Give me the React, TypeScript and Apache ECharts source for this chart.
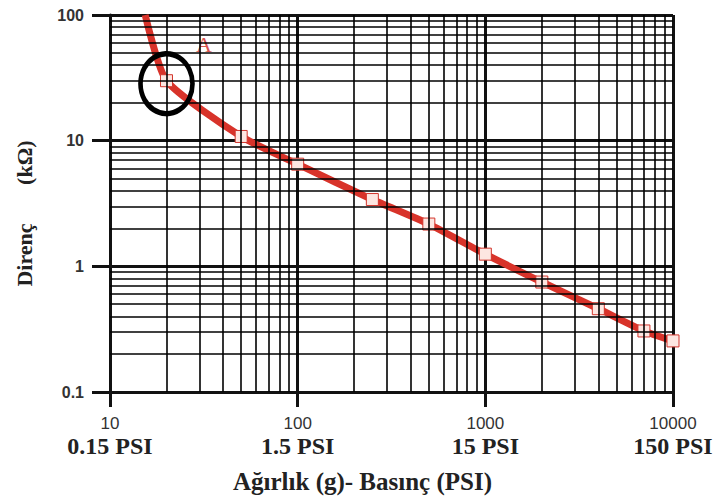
import React, { useEffect, useRef } from "react";
import * as echarts from "echarts";

const weights = [15.4, 20, 50, 100, 250, 500, 1000, 2000, 4000, 7000, 10000];
const resistance = [100, 30, 10.8, 6.5, 3.4, 2.17, 1.25, 0.75, 0.46, 0.306, 0.255];
const xTickLabels: Record<number, string> = { 10: "0.15 PSI", 100: "1.5 PSI", 1000: "15 PSI", 10000: "150 PSI" };
const xDecades = [10, 100, 1000];
const yDecades = [0.1, 1, 10];
const markedPoint = [20, 30];

export default function App() {
  const ref = useRef<HTMLDivElement>(null);
  useEffect(() => {
    if (!ref.current) return;
    const chart = echarts.init(ref.current, null, { renderer: "svg" });
    const minorX: number[] = [];
    xDecades.forEach((d) => { for (let k = 2; k <= 9; k++) minorX.push(d * k); });
    const minorY: number[] = [];
    yDecades.forEach((d) => { for (let k = 2; k <= 9; k++) minorY.push(+(d * k).toPrecision(3)); });
    const lineData = weights.map((w, i) => {
      const item: any = { value: [w, resistance[i]] };
      if (i === 0) item.symbol = "none";
      return item;
    });
    const gap = "\u00A0".repeat(7);
    chart.setOption({
      animation: false,
      grid: { left: 110, right: 43, top: 15, bottom: 110 },
      xAxis: {
        type: "log",
        logBase: 10,
        min: 10,
        max: 10000,
        name: "Ağırlık (g)- Basınç (PSI)",
        nameLocation: "middle",
        nameGap: 77,
        nameTextStyle: { fontFamily: "Liberation Serif", fontWeight: "bold", fontSize: 25, color: "#222", padding: [0, 58, 0, 0] },
        axisLine: { show: true, lineStyle: { color: "#111", width: 3 } },
        axisTick: { show: true, length: 15, lineStyle: { color: "#111", width: 3 } },
        splitLine: { show: true, lineStyle: { color: "#111", width: 3 } },
        axisLabel: {
          margin: 21,
          formatter: (v: number) => `{a|${v}}\n{b|${xTickLabels[Math.round(v)] || ""}}`,
          rich: {
            a: { fontFamily: "Liberation Sans", fontSize: 17, color: "#333", lineHeight: 20, align: "center" },
            b: { fontFamily: "Liberation Serif", fontWeight: "bold", fontSize: 24, color: "#222", lineHeight: 26, align: "center" },
          },
        },
      },
      yAxis: {
        type: "log",
        logBase: 10,
        min: 0.1,
        max: 100,
        name: "Direnç" + gap + "(kΩ)",
        nameLocation: "middle",
        nameGap: 75,
        nameRotate: 90,
        nameTextStyle: { fontFamily: "Liberation Serif", fontWeight: "bold", fontSize: 22, color: "#222", padding: [0, 20, 0, 0] },
        axisLine: { show: true, lineStyle: { color: "#111", width: 3 } },
        axisTick: { show: true, length: 18, lineStyle: { color: "#111", width: 3 } },
        splitLine: { show: true, lineStyle: { color: "#111", width: 3 } },
        axisLabel: {
          margin: 26,
          fontFamily: "Liberation Sans",
          fontWeight: "bold",
          fontSize: 16,
          color: "#333",
        },
      },
      series: [
        {
          type: "line",
          z: 1,
          data: [[10, 0.1]],
          symbol: "none",
          lineStyle: { opacity: 0 },
          silent: true,
          markLine: {
            silent: true,
            symbol: ["none", "none"],
            label: { show: false },
            lineStyle: { color: "#000", width: 1.6, type: "solid" },
            emphasis: { disabled: true },
            data: [
              ...minorX.map((x) => ({ xAxis: x })),
              ...minorY.map((y) => ({ yAxis: y })),
            ],
          },
        },
        {
          type: "line",
          z: 3,
          data: lineData,
          smooth: 0.2,
          symbol: "rect",
          symbolSize: 12,
          itemStyle: { color: "#fde6e1", borderColor: "#d2352c", borderWidth: 1 },
          lineStyle: { color: "#d8332a", width: 7 },
          markPoint: {
            silent: true,
            symbol: "circle",
            symbolSize: [52, 60],
            symbolOffset: [0, 3],
            itemStyle: { color: "rgba(0,0,0,0)", borderColor: "#000", borderWidth: 5 },
            label: { show: false },
            data: [{ coord: markedPoint }],
          },
        },
      ],
      graphic: [
        {
          type: "text",
          left: 196,
          top: 33,
          style: { text: "A", font: "22px 'Liberation Serif'", fill: "#d9534f" },
        },
      ],
    });
    return () => chart.dispose();
  }, []);
  return <div ref={ref} style={{ width: 716, height: 502, position: "absolute", left: 0, top: 0, background: "#fff" }} />;
}
